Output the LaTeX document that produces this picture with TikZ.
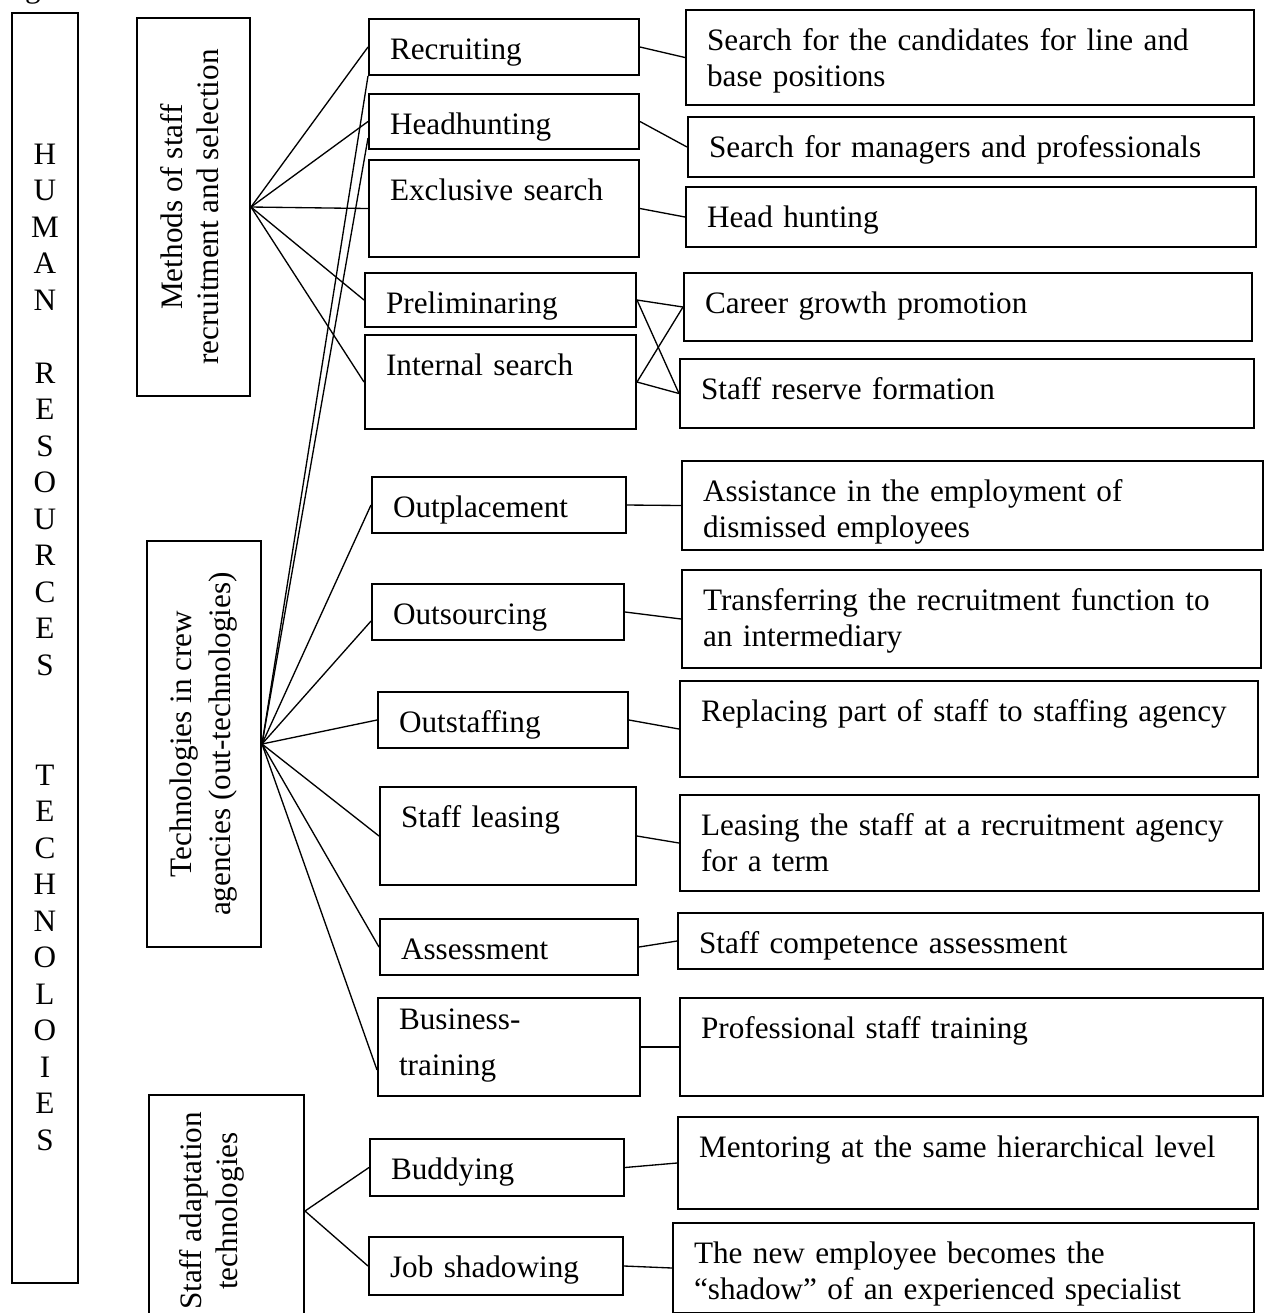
\documentclass[tikz,border=0pt]{standalone}
\usepackage{fontspec}
\setmainfont{Liberation Serif}
\usepackage{graphicx}

\newcommand{\pxu}{0.375pt}
\newcommand{\sideways}[1]
{%
  \rotatebox{90}{\begin{tabular}{@{}c@{}}#1\end{tabular}}%
}

\tikzset{
  cellbase/.initial=40,
  cell/.code 2 args={%
    \pgfmathsetlengthmacro\cellwd{#1*\pxu-2*\pgfkeysvalueof{/pgf/inner xsep}}%
    \pgfmathsetlengthmacro\cellht{\pgfkeysvalueof{/tikz/cellbase}*\pxu}%
    \pgfmathsetlengthmacro\celldp{(#2-\pgfkeysvalueof{/tikz/cellbase})*\pxu}%
    \edef\cellkeys{text width=\cellwd, text height=\cellht, text depth=\celldp}%
    \expandafter\pgfkeysalso\expandafter{\cellkeys}%
  },
  box/.style={draw, line width=0.75pt, anchor=north west, align=left,
    inner xsep=7.9pt, inner ysep=0pt},
  side/.style 2 args={draw, line width=0.75pt, inner sep=0pt,
    minimum width=#1*\pxu, minimum height=#2*\pxu},
  link/.style={line width=0.5pt},
}

\begin{document}
\begin{tikzpicture}[x=\pxu, y=\pxu, font=\fontsize{11.7}{13.5}\selectfont]
  \useasboundingbox (0,0) rectangle (1263,-1313);

  \node[anchor=base] (figmark) at (33,3) {g};

  \node[box, inner xsep=2pt, align=center, cellbase=151, cell={66}{1270},
    font=\fontsize{11.7}{13.7}\selectfont] (hrt) at (11,-12)
  {H\\U\\M\\A\\N\\~\\R\\E\\S\\O\\U\\R\\C\\E\\S\\~\\~\\
   T\\E\\C\\H\\N\\O\\L\\O\\I\\E\\S};

  % recruitment and selection
  \node[side={113}{378}] (meth) at (193.5,-207)
    {\sideways{Methods of staff\\recruitment and selection}};

  \node[box, cell={270}{56}] (rec)    at (368,-18)  {Recruiting};
  \node[box, cell={270}{55}] (hh)     at (368,-93)  {Headhunting};
  \node[box, cell={270}{97}] (excl)   at (368,-159) {Exclusive search};
  \node[box, cell={271}{54}] (prelim) at (364,-272) {Preliminaring};
  \node[box, cell={271}{94}] (intern) at (364,-334) {Internal search};

  \node[box, cell={568}{95}] (cand) at (685,-9)
    {Search for the candidates for line and\\base positions};
  \node[box, cell={566}{60}] (mgr)  at (687,-116)
    {Search for managers and professionals};
  \node[box, cell={570}{60}] (hunt) at (685,-186) {Head hunting};
  \node[box, cell={568}{68}] (career)  at (683,-272) {Career growth promotion};
  \node[box, cell={574}{69}] (reserve) at (679,-358) {Staff reserve formation};

  % out-technologies
  \node[side={114}{406}] (tech) at (204,-744)
    {\sideways{Technologies in crew\\[1pt]agencies (out-technologies)}};

  \node[box, cell={254}{56}] (outpl)   at (371,-476) {Outplacement};
  \node[box, cell={252}{56}] (outsrc)  at (371,-583) {Outsourcing};
  \node[box, cell={250}{56}] (outst)   at (377,-691) {Outstaffing};
  \node[box, cell={256}{98}] (leasing) at (379,-786) {Staff leasing};
  \node[box, cell={258}{56}] (assess)  at (379,-918) {Assessment};
  \node[box, cellbase=31, cell={262}{98}] (bustrain) at (377,-997)
    {Business-\\[3.75pt]training};

  \node[box, cell={581}{89}] (assist)   at (681,-460)
    {Assistance in the employment of\\dismissed employees};
  \node[box, cell={579}{98}] (transfer) at (681,-569)
    {Transferring the recruitment function to\\an intermediary};
  \node[box, cell={578}{96}] (replace)  at (679,-680)
    {Replacing part of staff to staffing agency};
  \node[box, cell={579}{96}] (lease)    at (679,-794)
    {Leasing the staff at a recruitment agency\\for a term};
  \node[box, cell={585}{56}] (compet)   at (677,-912) {Staff competence assessment};
  \node[box, cell={583}{98}] (proftrain) at (679,-997) {Professional staff training};

  % adaptation
  \node[side={155}{232}] (adapt) at (226.5,-1211)
    {\sideways{Staff adaptation\\technologies}\hspace*{10.5pt}};

  \node[box, cell={254}{57}] (buddy) at (369,-1138) {Buddying};
  \node[box, cell={254}{58}] (jobsh) at (368,-1236) {Job shadowing};

  \node[box, cell={580}{92}] (mentor)    at (677,-1116)
    {Mentoring at the same hierarchical level};
  \node[box, cell={581}{90}] (shadowtxt) at (672,-1222)
    {The new employee becomes the\\“shadow” of an experienced specialist};

  \draw[link] (meth.east) -- (rec.west);
  \draw[link] (meth.east) -- (hh.west);
  \draw[link] (meth.east) -- (excl.west);
  \draw[link] (meth.east) -- (prelim.west);
  \draw[link] (meth.east) -- (intern.west);

  \draw[link] (rec.east) -- (cand.west);
  \draw[link] (hh.east) -- (mgr.west);
  \draw[link] (excl.east) -- (hunt.west);
  \draw[link] (prelim.east) -- (career.west);
  \draw[link] (prelim.east) -- (reserve.west);
  \draw[link] (intern.east) -- (career.west);
  \draw[link] (intern.east) -- (reserve.west);

  \draw[link] (tech.east) -- (rec.south west);
  \draw[link] (tech.east) -- ([yshift=-6.2pt]hh.west);
  \draw[link] (tech.east) -- (outpl.west);
  \draw[link] (tech.east) -- ([yshift=-3.4pt]outsrc.west);
  \draw[link] (tech.east) -- (outst.west);
  \draw[link] (tech.east) -- (leasing.west);
  \draw[link] (tech.east) -- (assess.west);
  \draw[link] (tech.east) -- ([yshift=-8.6pt]bustrain.west);

  \draw[link] (outpl.east) -- (assist.west);
  \draw[link] (outsrc.east) -- (transfer.west);
  \draw[link] (outst.east) -- (replace.west);
  \draw[link] (leasing.east) -- (lease.west);
  \draw[link] (assess.east) -- (compet.west);
  \draw[link] (bustrain.east) -- (proftrain.west);

  \draw[link] (adapt.east) -- (buddy.west);
  \draw[link] (adapt.east) -- (jobsh.west);
  \draw[link] (buddy.east) -- (mentor.west);
  \draw[link] (jobsh.east) -- (shadowtxt.west);

\end{tikzpicture}
\end{document}
